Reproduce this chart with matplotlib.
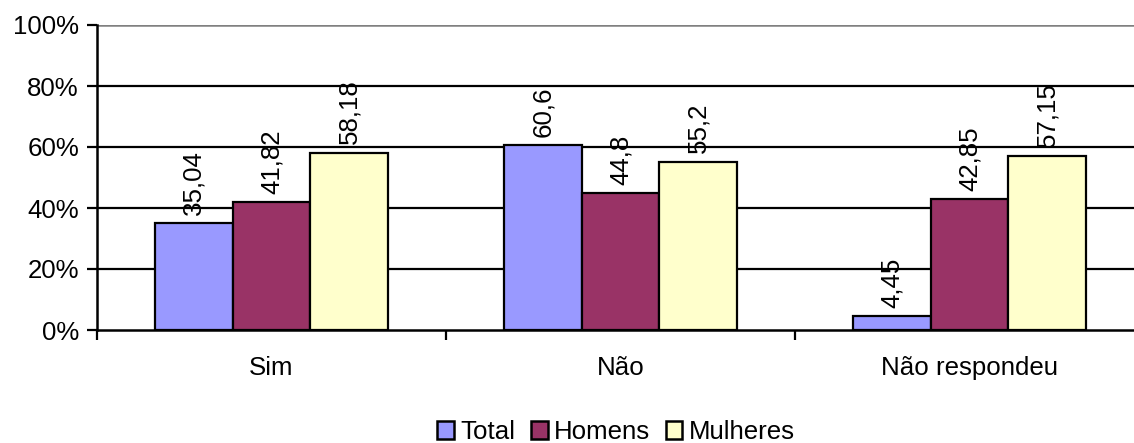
import matplotlib
matplotlib.use('Agg')
import matplotlib.pyplot as plt
import numpy as np
from matplotlib.patches import Patch

categories = ['Sim', 'Não', 'Não respondeu']
series_names = ['Total', 'Homens', 'Mulheres']
total = [35.04, 60.6, 4.45]
homens = [41.82, 44.8, 42.85]
mulheres = [58.18, 55.2, 57.15]
yticks = [0, 20, 40, 60, 80, 100]

colors = ['#9999FF', '#993366', '#FFFFCC']

plt.rcParams['font.family'] = ['Liberation Sans', 'DejaVu Sans']
fs = 18.6

fig = plt.figure(figsize=(11.34, 4.43), dpi=100)
ax = fig.add_axes([97 / 1134, 113 / 443, 1047 / 1134, 305 / 443])

index = np.arange(len(categories)) + 0.5
width = 0.2226

for i, (name, vals) in enumerate(zip(series_names, [total, homens, mulheres])):
    x = index + (i - 1) * width
    ax.bar(x, vals, width, color=colors[i], edgecolor='black', linewidth=1.6, zorder=3)
    for a, b in zip(x, vals):
        ax.annotate(str(b).replace('.', ','), (a, b), xytext=(0, 6), textcoords='offset points',
                    rotation=90, ha='center', va='bottom', fontsize=fs, zorder=4)

# linhas de grade
for t in yticks[1:-1]:
    ax.axhline(t, color='black', linewidth=1.6, zorder=1)
ax.axhline(100, color='#808080', linewidth=1.8, zorder=1)

ax.set_xlim(0, 3)
ax.set_ylim(0, 100)
ax.set_yticks(yticks)
ax.set_yticklabels(['{}%'.format(t) for t in yticks], fontsize=fs)
ax.set_xticks([0, 1, 2, 3])
ax.set_xticklabels([])
ax.set_xticks(index, minor=True)
ax.set_xticklabels(categories, minor=True, fontsize=fs)
ax.tick_params(axis='x', which='minor', length=0, pad=19)
ax.tick_params(axis='x', which='major', length=7, width=1.6, direction='out')
ax.tick_params(axis='y', length=7, width=1.6, direction='out', pad=6)

for s in ['top', 'right']:
    ax.spines[s].set_visible(False)
ax.spines['left'].set_linewidth(1.8)
ax.spines['bottom'].set_linewidth(1.8)
ax.spines['left'].set_zorder(5)
ax.spines['bottom'].set_zorder(5)

handles = [Patch(facecolor=c, edgecolor='black', linewidth=1.8) for c in colors]
fig.legend(handles, series_names, loc='center', bbox_to_anchor=(616 / 1134, 1 - 432 / 443),
           ncol=3, frameon=False, fontsize=fs, handlelength=0.65, handleheight=0.65,
           handletextpad=0.25, columnspacing=0.6, borderpad=0)

plt.savefig('out.png', dpi=100)
